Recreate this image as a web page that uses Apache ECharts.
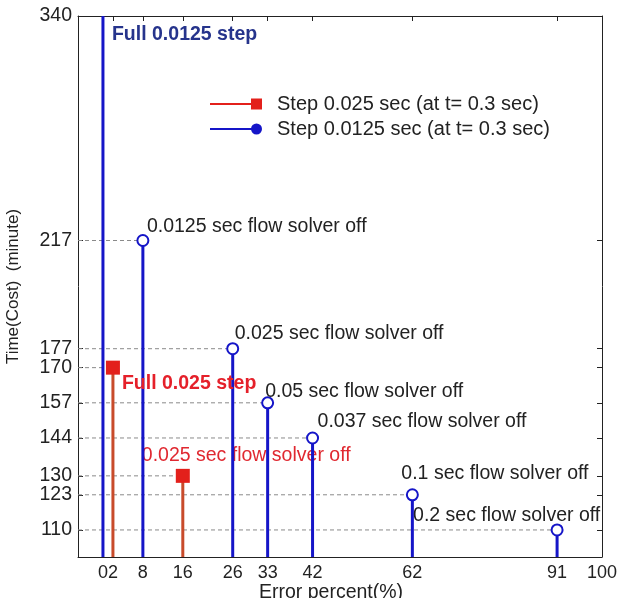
<!DOCTYPE html>
<html>
<head>
<meta charset="utf-8">
<script src="https://cdn.jsdelivr.net/npm/echarts@6/dist/echarts.min.js"></script>
<style>
  html, body { margin: 0; padding: 0; background: #fff; }
  #chart { width: 618px; height: 598px; }
</style>
</head>
<body>
<div id="chart"></div>
<script>
// data
const blueX = [0, 8, 26, 33, 42, 62, 91]
const blueY = [340, 217, 177, 157, 144, 123, 110]
const redX = [2, 16]
const redY = [170, 130]
const xTicks = [0, 2, 8, 16, 26, 33, 42, 62, 91, 100]
const yTicks = [110, 123, 130, 144, 157, 170, 177, 217, 300]
const yTickLabels = ['110', '123', '130', '144', '157', '170', '177', '217', '340']
const blueName = 'Step 0.0125 sec (at t= 0.3 sec)'
const redName = 'Step 0.025 sec (at t= 0.3 sec)'

const notes = [
  { s: 'blue', i: 0, text: 'Full 0.0125 step', dx: 9, dy: 19, color: '#26348c', bold: true },
  { s: 'blue', i: 1, text: '0.0125 sec flow solver off', dx: 4, dy: -14 },
  { s: 'blue', i: 2, text: '0.025 sec flow solver off', dx: 2, dy: -15 },
  { s: 'blue', i: 3, text: '0.05 sec flow solver off', dx: -2.5, dy: -11.5 },
  { s: 'blue', i: 4, text: '0.037 sec flow solver off', dx: 5, dy: -16.5 },
  { s: 'blue', i: 5, text: '0.1 sec flow solver off', dx: -11, dy: -21 },
  { s: 'blue', i: 6, text: '0.2 sec flow solver off', dx: -144, dy: -14 },
  { s: 'red', i: 0, text: 'Full 0.025 step', dx: 9, dy: 16, color: '#e5202a', bold: true },
  { s: 'red', i: 1, text: '0.025 sec flow solver off', dx: -41, dy: -20.5, color: '#e02830', z: 1 }
]

const X_MIN = -5, X_MAX = 100, Y_MIN = 100, Y_MAX = 300
const FONT = '"Liberation Sans", Arial, sans-serif'
const BLUE = '#1515c8'
const RED_STEM = '#c84b2b'
const RED_MARK = '#e3201b'

const pairs = (xs, ys) => xs.map((x, i) => [x, ys[i]])

function stems (name, xs, ys, color) {
  return {
    type: 'custom',
    name: name,
    z: 3,
    clip: true,
    silent: true,
    data: pairs(xs, ys),
    renderItem (params, api) {
      const x = api.value(0)
      const y = api.value(1)
      const top = api.coord([x, y])
      const base = api.coord([x, Y_MIN])
      const topY = Math.max(top[1], params.coordSys.y)
      return {
        type: 'line',
        shape: { x1: base[0], y1: base[1], x2: base[0], y2: topY },
        style: { stroke: color, lineWidth: 3 }
      }
    }
  }
}

function guides (xs, ys) {
  return {
    type: 'custom',
    z: 2,
    clip: true,
    silent: true,
    data: pairs(xs, ys),
    renderItem (params, api) {
      const x = api.value(0)
      const y = api.value(1)
      const end = api.coord([x, y])
      const start = api.coord([X_MIN, y])
      if (end[1] < params.coordSys.y) return null
      return {
        type: 'line',
        shape: { x1: start[0], y1: end[1], x2: end[0], y2: end[1] },
        style: { stroke: '#8a8a8a', lineWidth: 1, lineDash: [4, 3] }
      }
    }
  }
}

const tickStyle = { inside: true, length: 5, lineStyle: { color: '#222' } }
const lineStyle = { show: true, onZero: false, lineStyle: { color: '#222', width: 1 } }

const option = {
  animation: false,
  backgroundColor: '#fff',
  grid: { left: 78, right: 16, top: 16, bottom: 41, outerBoundsMode: 'none', containLabel: false },
  legend: {
    orient: 'vertical',
    left: 210,
    top: 94,
    padding: 0,
    itemWidth: 52,
    itemHeight: 11,
    itemGap: 5,
    selectedMode: false,
    textStyle: { fontSize: 20, color: '#222', fontFamily: FONT, padding: [0, 0, 0, 10] },
    data: [
      {
        name: redName,
        icon: 'path://M0,4.5L41,4.5L41,6.5L0,6.5Z M41,0L52,0L52,11L41,11Z',
        itemStyle: { color: RED_MARK, borderWidth: 0 }
      },
      {
        name: blueName,
        icon: 'path://M0,4.5L44,4.5L44,6.5L0,6.5Z M41,5.5A5.5,5.5 0 1 1 52,5.5A5.5,5.5 0 1 1 41,5.5Z',
        itemStyle: { color: BLUE, borderWidth: 0 }
      }
    ]
  },
  xAxis: [
    {
      type: 'value',
      min: X_MIN,
      max: X_MAX,
      name: 'Error percent(%)',
      nameLocation: 'middle',
      nameGap: 26,
      nameMoveOverlap: false,
      nameTextStyle: { fontSize: 19.5, color: '#222', fontFamily: FONT, padding: [0, 18, 0, 0] },
      axisLine: lineStyle,
      axisTick: Object.assign({ customValues: xTicks }, tickStyle),
      axisLabel: {
        customValues: xTicks,
        hideOverlap: false,
        margin: 7,
        fontSize: 18,
        color: '#222',
        fontFamily: FONT
      },
      splitLine: { show: false }
    },
    {
      type: 'value',
      position: 'top',
      min: X_MIN,
      max: X_MAX,
      axisLine: lineStyle,
      axisTick: Object.assign({ customValues: xTicks }, tickStyle),
      axisLabel: { show: false },
      splitLine: { show: false }
    }
  ],
  yAxis: [
    {
      type: 'value',
      min: Y_MIN,
      max: Y_MAX,
      name: 'Time(Cost)  (minute)',
      nameLocation: 'middle',
      nameGap: 56,
      nameMoveOverlap: false,
      nameTextStyle: { fontSize: 17, color: '#222', fontFamily: FONT },
      axisLine: lineStyle,
      axisTick: Object.assign({ customValues: yTicks }, tickStyle),
      axisLabel: {
        customValues: yTicks,
        hideOverlap: false,
        margin: 6,
        fontSize: 19.5,
        color: '#222',
        fontFamily: FONT,
        formatter: v => yTickLabels[yTicks.indexOf(v)]
      },
      splitLine: { show: false }
    },
    {
      type: 'value',
      position: 'right',
      min: Y_MIN,
      max: Y_MAX,
      axisLine: lineStyle,
      axisTick: Object.assign({ customValues: yTicks }, tickStyle),
      axisLabel: { show: false },
      splitLine: { show: false }
    }
  ],
  series: [
    guides(blueX, blueY),
    guides(redX, redY),
    stems(blueName, blueX, blueY, BLUE),
    stems(redName, redX, redY, RED_STEM),
    {
      type: 'scatter',
      name: blueName,
      z: 4,
      clip: true,
      symbol: 'emptyCircle',
      symbolSize: 11,
      itemStyle: { color: BLUE, borderWidth: 2.5, opacity: 1 },
      data: pairs(blueX, blueY)
    },
    {
      type: 'scatter',
      name: redName,
      z: 4,
      clip: true,
      symbol: 'rect',
      symbolSize: 14,
      itemStyle: { color: RED_MARK, opacity: 1 },
      data: pairs(redX, redY)
    }
  ]
}

const chart = echarts.init(document.getElementById('chart'), null, { renderer: 'canvas' })
chart.setOption(option)

// annotations anchored to their points
const graphic = notes.map(n => {
  const xs = n.s === 'blue' ? blueX : redX
  const ys = n.s === 'blue' ? blueY : redY
  const p = chart.convertToPixel({ seriesIndex: 4 }, [xs[n.i], Math.min(ys[n.i], Y_MAX)])
  return {
    type: 'text',
    x: p[0] + n.dx,
    y: p[1] + n.dy,
    z: n.z || 10,
    silent: true,
    style: {
      text: n.text,
      fill: n.color || '#222',
      font: (n.bold ? 'bold ' : '') + '19.5px ' + FONT,
      verticalAlign: 'middle'
    }
  }
})
chart.setOption({ graphic: graphic })
</script>
</body>
</html>
